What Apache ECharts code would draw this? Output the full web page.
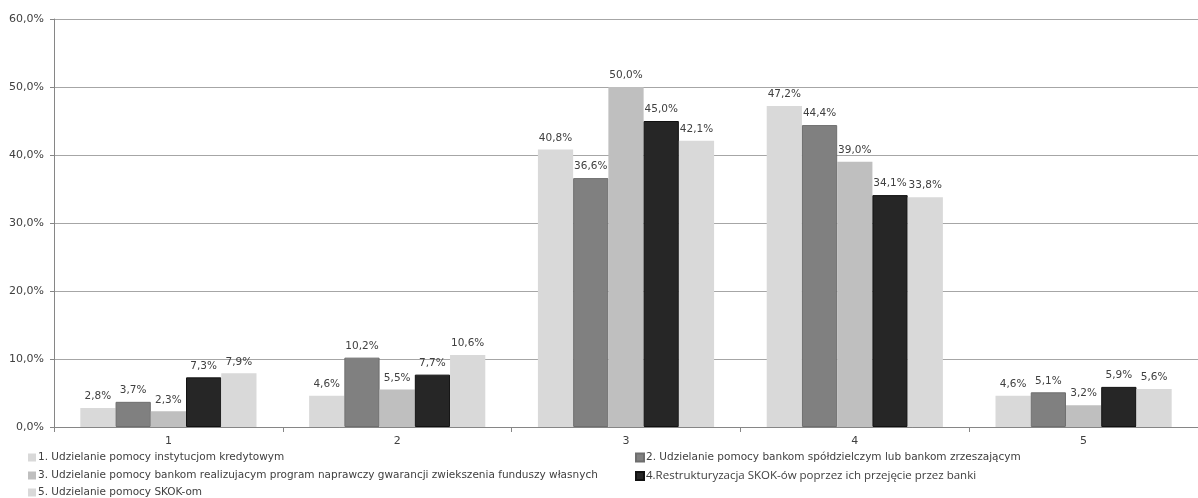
<!DOCTYPE html>
<html>
<head>
<meta charset="utf-8">
<script src="https://cdn.jsdelivr.net/npm/echarts@6/dist/echarts.min.js"></script>
<style>
  html, body { margin: 0; padding: 0; background: #fff; }
  #chart { width: 1198px; height: 498px; }
</style>
</head>
<body>
<div id="chart"></div>
<script>
// Categories on the x axis
const categories = ['1', '2', '3', '4', '5'];

// Series names (legend)
const seriesNames = [
  '1. Udzielanie pomocy instytucjom kredytowym',
  '2. Udzielanie pomocy bankom spółdzielczym lub bankom zrzeszającym',
  '3. Udzielanie pomocy bankom realizujacym program naprawczy gwarancji zwiekszenia funduszy własnych',
  '4.Restrukturyzacja SKOK-ów poprzez ich przejęcie przez banki',
  '5. Udzielanie pomocy SKOK-om'
];

// Values in percent
const s1 = [2.8, 4.6, 40.8, 47.2, 4.6];
const s2 = [3.7, 10.2, 36.6, 44.4, 5.1];
const s3 = [2.3, 5.5, 50.0, 39.0, 3.2];
const s4 = [7.3, 7.7, 45.0, 34.1, 5.9];
const s5 = [7.9, 10.6, 42.1, 33.8, 5.6];

const seriesData = [s1, s2, s3, s4, s5];
const colors = ['#d9d9d9', '#808080', '#bfbfbf', '#262626', '#d9d9d9'];

const pct = v => v.toFixed(1).replace('.', ',') + '%';
const font = 'DejaVu Sans, Verdana, sans-serif';
const textColor = '#404040';

// Legend entries laid out in two columns below the plot
const legendPos = [
  { left: 28, top: 452 },
  { left: 635, top: 452 },
  { left: 28, top: 470 },
  { left: 635, top: 470 },
  { left: 28, top: 487 }
];

const chart = echarts.init(document.getElementById('chart'));

chart.setOption({
  animation: false,
  color: colors,
  grid: { left: 54, right: 0, top: 19, bottom: 71, containLabel: false },
  legend: seriesNames.map((name, i) => ({
    data: [name],
    left: legendPos[i].left,
    top: legendPos[i].top,
    padding: 0,
    itemWidth: 8, itemHeight: 8,
    icon: 'rect',
    textStyle: {
      fontFamily: i === 3 ? 'Liberation Sans Narrow, Open Sans, sans-serif' : font,
      fontSize: i === 3 ? 11.5 : 10.5,
      color: textColor,
      padding: [0, 0, 0, -3]
    }
  })),
  xAxis: {
    type: 'category',
    data: categories,
    axisLine: { lineStyle: { color: '#868686', width: 1 } },
    axisTick: { show: true, alignWithLabel: false, length: 5, lineStyle: { color: '#868686' } },
    axisLabel: { fontFamily: font, fontSize: 11, color: textColor, margin: 9 }
  },
  yAxis: {
    type: 'value',
    min: 0, max: 60, interval: 10,
    axisLine: { show: true, lineStyle: { color: '#868686' } },
    axisTick: { show: true, length: 4, lineStyle: { color: '#868686' } },
    splitLine: { lineStyle: { color: '#a6a6a6', width: 1 } },
    axisLabel: {
      fontFamily: font, fontSize: 11, color: textColor, margin: 10,
      formatter: v => pct(v)
    }
  },
  series: seriesData.map((d, i) => ({
    name: seriesNames[i],
    type: 'bar',
    data: d,
    barGap: '0%',
    barCategoryGap: '23%',
    itemStyle: {
      color: colors[i],
      borderColor: i === 3 ? '#111' : (i === 1 ? '#6e6e6e' : 'transparent'),
      borderWidth: i === 3 || i === 1 ? 1 : 0
    },
    label: {
      show: true,
      position: 'top',
      distance: 6,
      fontFamily: font,
      fontSize: 10.5,
      color: textColor,
      formatter: p => pct(p.value)
    }
  }))
});
</script>
</body>
</html>
